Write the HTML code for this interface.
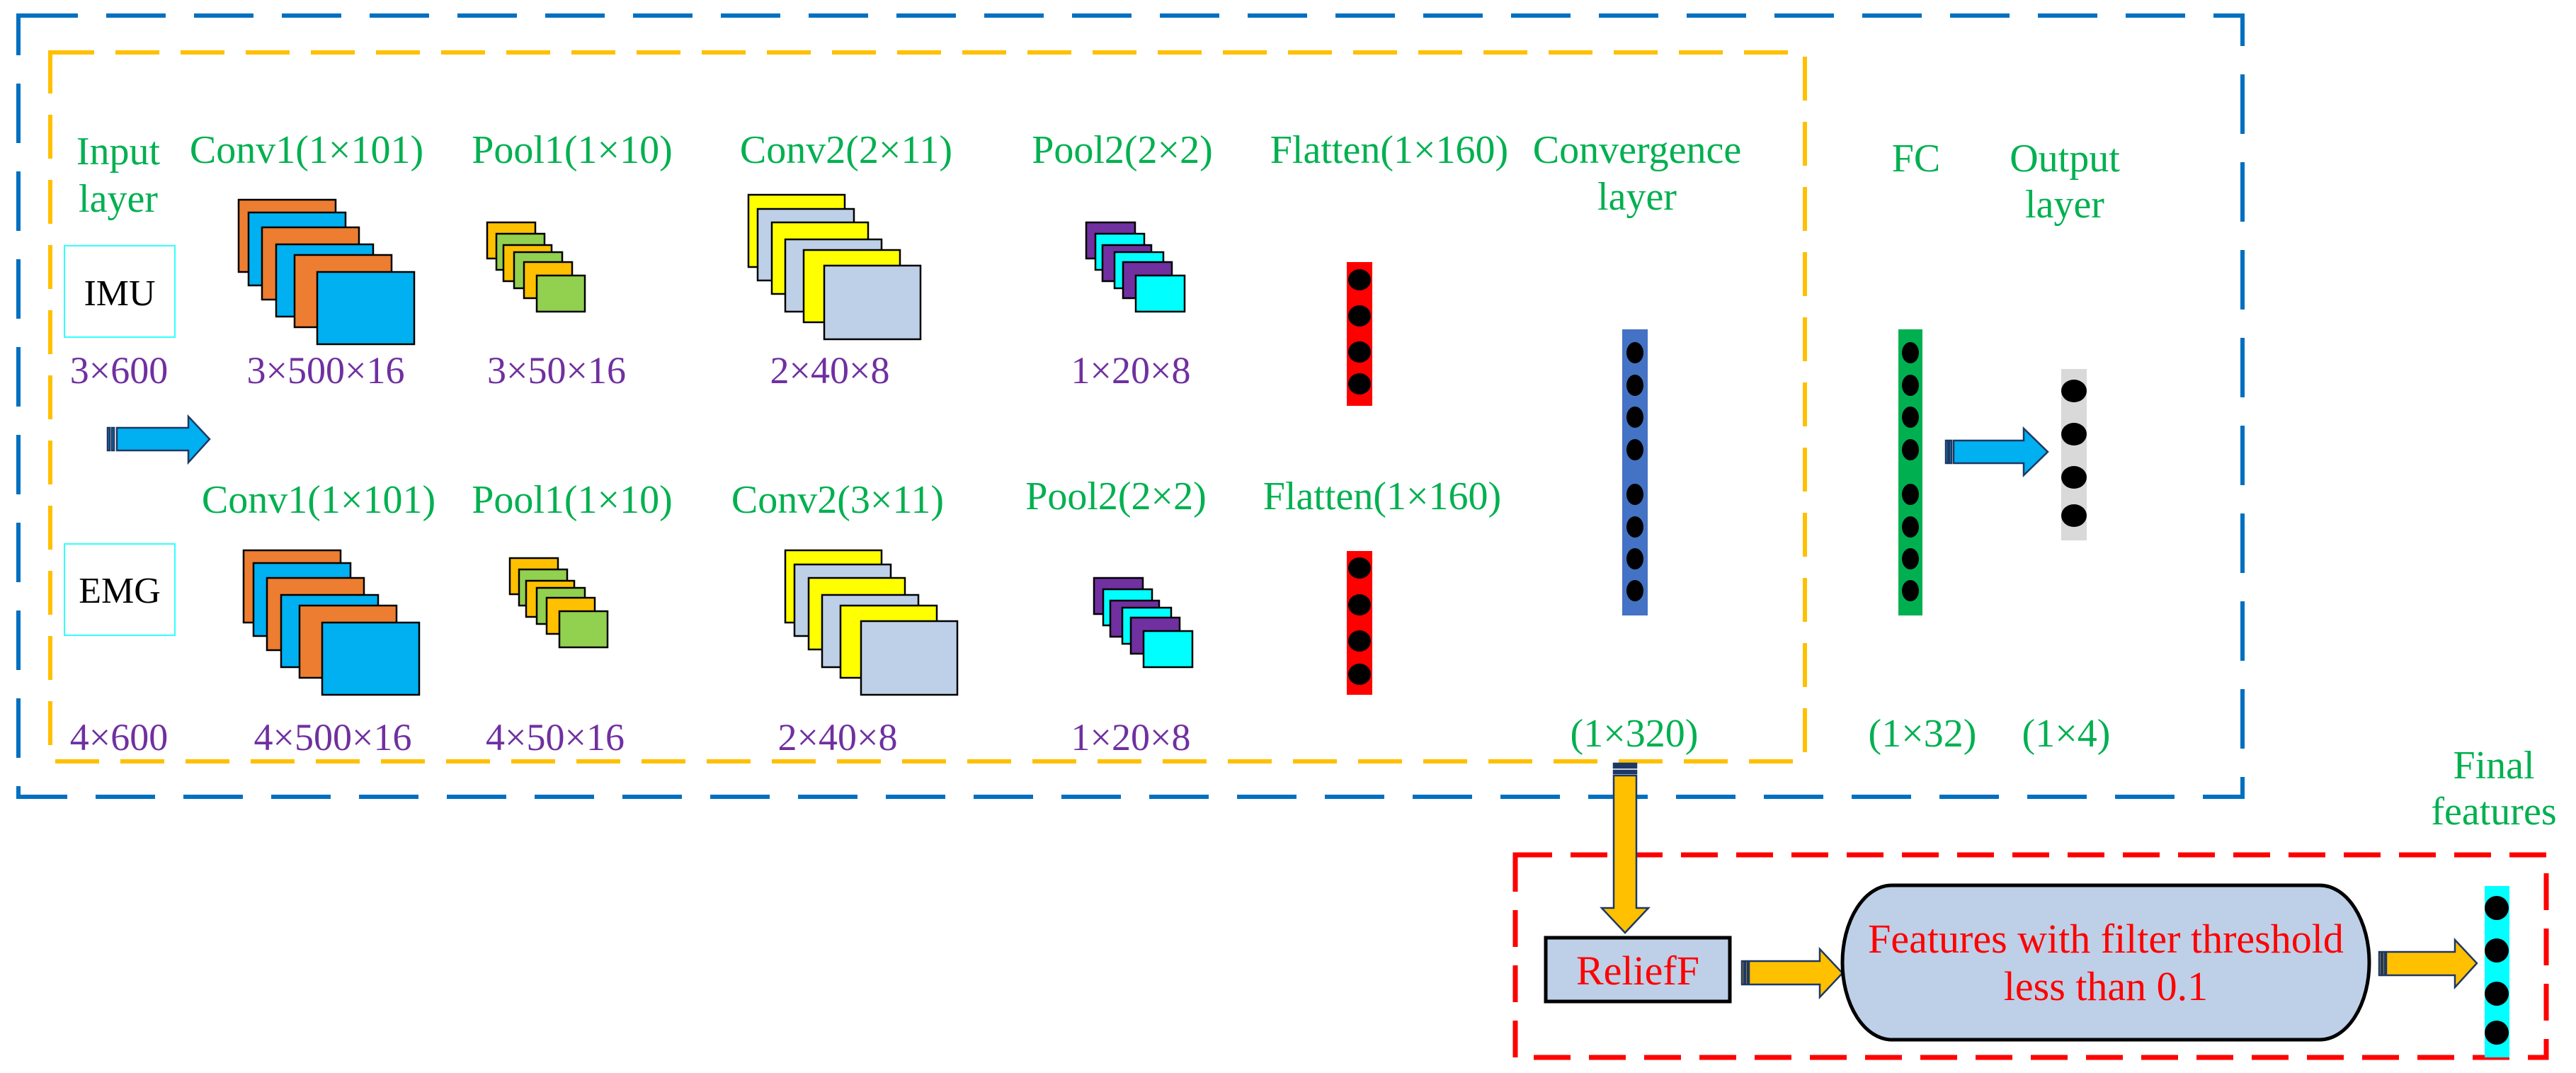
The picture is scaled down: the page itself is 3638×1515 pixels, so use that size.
<!DOCTYPE html>
<html><head><meta charset="utf-8"><style>
html,body{margin:0;padding:0;background:#fff}
svg{display:block}
text{font-family:"Liberation Serif",serif}
.g{fill:#00B050;font-size:56px}
.p{fill:#7030A0;font-size:54px}
.r{fill:#FF0000;font-size:58px}
</style></head><body>
<svg width="3638" height="1515" viewBox="0 0 3638 1515" xmlns="http://www.w3.org/2000/svg">
<defs>
<g id="conv1">
<rect x="337" y="282" width="137" height="102" fill="#ED7D31" stroke="#000" stroke-width="2.5"/>
<rect x="351" y="300" width="137" height="103" fill="#00B0F0" stroke="#000" stroke-width="2.5"/>
<rect x="370" y="321" width="137" height="102" fill="#ED7D31" stroke="#000" stroke-width="2.5"/>
<rect x="390" y="345" width="137" height="102" fill="#00B0F0" stroke="#000" stroke-width="2.5"/>
<rect x="416" y="360" width="137" height="102" fill="#ED7D31" stroke="#000" stroke-width="2.5"/>
<rect x="448" y="384" width="137" height="102" fill="#00B0F0" stroke="#000" stroke-width="2.5"/>
</g>
<g id="pool1">
<rect x="688" y="314" width="68" height="51" fill="#FFC000" stroke="#000" stroke-width="2.5"/>
<rect x="701" y="330" width="68" height="51" fill="#92D050" stroke="#000" stroke-width="2.5"/>
<rect x="711" y="346" width="68" height="51" fill="#FFC000" stroke="#000" stroke-width="2.5"/>
<rect x="726" y="356" width="68" height="51" fill="#92D050" stroke="#000" stroke-width="2.5"/>
<rect x="740" y="370" width="68" height="51" fill="#FFC000" stroke="#000" stroke-width="2.5"/>
<rect x="758" y="389" width="68" height="51" fill="#92D050" stroke="#000" stroke-width="2.5"/>
</g>
<g id="conv2">
<rect x="1057" y="275" width="136" height="102" fill="#FFFF00" stroke="#000" stroke-width="2.5"/>
<rect x="1070" y="295" width="136" height="101" fill="#BDD0E8" stroke="#000" stroke-width="2.5"/>
<rect x="1090" y="314" width="136" height="101" fill="#FFFF00" stroke="#000" stroke-width="2.5"/>
<rect x="1109" y="338" width="136" height="102" fill="#BDD0E8" stroke="#000" stroke-width="2.5"/>
<rect x="1135" y="353" width="136" height="102" fill="#FFFF00" stroke="#000" stroke-width="2.5"/>
<rect x="1164" y="375" width="136" height="104" fill="#BDD0E8" stroke="#000" stroke-width="2.5"/>
</g>
<g id="pool2">
<rect x="1534" y="314" width="69" height="51" fill="#7030A0" stroke="#000" stroke-width="2.5"/>
<rect x="1547" y="330" width="69" height="51" fill="#00FFFF" stroke="#000" stroke-width="2.5"/>
<rect x="1557" y="346" width="69" height="51" fill="#7030A0" stroke="#000" stroke-width="2.5"/>
<rect x="1574" y="356" width="69" height="51" fill="#00FFFF" stroke="#000" stroke-width="2.5"/>
<rect x="1586" y="370" width="69" height="51" fill="#7030A0" stroke="#000" stroke-width="2.5"/>
<rect x="1604" y="389" width="69" height="51" fill="#00FFFF" stroke="#000" stroke-width="2.5"/>
</g>
</defs>

<rect x="26" y="22" width="3141" height="1103" fill="none" stroke="#0070C0" stroke-width="6" stroke-dasharray="84 40"/>
<rect x="71" y="74" width="2478" height="1001" fill="none" stroke="#FFC000" stroke-width="6" stroke-dasharray="62 30"/>
<rect x="2140" y="1207" width="1456" height="286" fill="none" stroke="#FF0000" stroke-width="7" stroke-dasharray="52 26"/>

<rect x="91" y="347" width="156" height="129" fill="#fff" stroke="#33FFFF" stroke-width="2"/>
<text x="169" y="431" font-size="52" text-anchor="middle" fill="#000">IMU</text>
<rect x="91" y="768" width="156" height="129" fill="#fff" stroke="#33FFFF" stroke-width="2"/>
<text x="169" y="851" font-size="52" text-anchor="middle" fill="#000">EMG</text>

<use href="#conv1"/><use href="#conv1" transform="translate(7,495)"/>
<use href="#pool1"/><use href="#pool1" transform="translate(32,474)"/>
<use href="#conv2"/><use href="#conv2" transform="translate(52,502)"/>
<use href="#pool2"/><use href="#pool2" transform="translate(11,502)"/>

<g fill="#00B0F0" stroke="#1F3864" stroke-width="2.5">
<rect x="152" y="604" width="3" height="32"/><rect x="158" y="604" width="3" height="32"/>
<polygon points="165,604 266,604 266,588 296,620 266,653 266,636 165,636"/>
</g>

<rect x="1902" y="370" width="36" height="203" fill="#FF0000"/>
<g fill="#000"><ellipse cx="1920" cy="395" rx="16" ry="15"/><ellipse cx="1920" cy="446" rx="16" ry="15"/><ellipse cx="1920" cy="497" rx="16" ry="15"/><ellipse cx="1920" cy="542" rx="16" ry="15"/></g>
<rect x="1902" y="778" width="36" height="203" fill="#FF0000"/>
<g fill="#000"><ellipse cx="1920" cy="802" rx="16" ry="15"/><ellipse cx="1920" cy="854" rx="16" ry="15"/><ellipse cx="1920" cy="905" rx="16" ry="15"/><ellipse cx="1920" cy="952" rx="16" ry="15"/></g>

<rect x="2291" y="465" width="36" height="404" fill="#4472C4"/>
<g fill="#000">
<ellipse cx="2309" cy="498" rx="12" ry="15"/><ellipse cx="2309" cy="544" rx="12" ry="15"/><ellipse cx="2309" cy="589" rx="12" ry="15"/><ellipse cx="2309" cy="635" rx="12" ry="15"/>
<ellipse cx="2309" cy="698" rx="12" ry="15"/><ellipse cx="2309" cy="744" rx="12" ry="15"/><ellipse cx="2309" cy="789" rx="12" ry="15"/><ellipse cx="2309" cy="834" rx="12" ry="15"/>
</g>
<rect x="2681" y="465" width="34" height="404" fill="#00B050"/>
<g fill="#000">
<ellipse cx="2698" cy="498" rx="12" ry="15"/><ellipse cx="2698" cy="544" rx="12" ry="15"/><ellipse cx="2698" cy="589" rx="12" ry="15"/><ellipse cx="2698" cy="635" rx="12" ry="15"/>
<ellipse cx="2698" cy="698" rx="12" ry="15"/><ellipse cx="2698" cy="744" rx="12" ry="15"/><ellipse cx="2698" cy="789" rx="12" ry="15"/><ellipse cx="2698" cy="834" rx="12" ry="15"/>
</g>
<rect x="2911" y="521" width="36" height="242" fill="#D9D9D9"/>
<g fill="#000"><ellipse cx="2929" cy="552" rx="18" ry="16"/><ellipse cx="2929" cy="613" rx="18" ry="16"/><ellipse cx="2929" cy="674" rx="18" ry="16"/><ellipse cx="2929" cy="728" rx="18" ry="16"/></g>
<g fill="#00B0F0" stroke="#1F3864" stroke-width="2.5">
<rect x="2748" y="622" width="3" height="32"/><rect x="2753" y="622" width="3" height="32"/>
<polygon points="2759,622 2858,622 2858,605 2892,638 2858,671 2858,654 2759,654"/>
</g>

<g fill="#FFC000" stroke="#1F3864" stroke-width="2.5">
<rect x="2279" y="1078" width="32" height="6" fill="#1F3864"/>
<rect x="2279" y="1088" width="32" height="4" fill="#1F3864"/>
<polygon points="2279,1095 2311,1095 2311,1282 2328,1282 2295,1317 2262,1282 2279,1282"/>
</g>

<rect x="2183" y="1324" width="260" height="90" fill="#BDD0E8" stroke="#000" stroke-width="5"/>
<text x="2313" y="1390" class="r" text-anchor="middle">ReliefF</text>
<g fill="#FFC000" stroke="#1F3864" stroke-width="2.5">
<rect x="2460" y="1357" width="3" height="33"/><rect x="2465" y="1357" width="3" height="33"/>
<polygon points="2470,1357 2570,1357 2570,1340 2602,1374 2570,1408 2570,1390 2470,1390"/>
</g>
<rect x="2602" y="1250" width="744" height="218" rx="70" ry="109" fill="#BDD0E8" stroke="#000" stroke-width="5"/>
<text x="2974" y="1345" class="r" text-anchor="middle">Features with filter threshold</text>
<text x="2974" y="1412" class="r" text-anchor="middle">less than 0.1</text>
<g fill="#FFC000" stroke="#1F3864" stroke-width="2.5">
<rect x="3360" y="1344" width="3" height="33"/><rect x="3365" y="1344" width="3" height="33"/>
<polygon points="3370,1344 3467,1344 3467,1327 3498,1360 3467,1394 3467,1377 3370,1377"/>
</g>
<rect x="3509" y="1251" width="35" height="242" fill="#00FFFF"/>
<g fill="#000"><ellipse cx="3526" cy="1282" rx="17" ry="17"/><ellipse cx="3526" cy="1342" rx="17" ry="17"/><ellipse cx="3526" cy="1403" rx="17" ry="17"/><ellipse cx="3526" cy="1458" rx="17" ry="17"/></g>
<text x="3522" y="1099" class="g" text-anchor="middle">Final</text>
<text x="3522" y="1164" class="g" text-anchor="middle">features</text>

<g class="g" text-anchor="middle">
<text x="167" y="232">Input</text><text x="167" y="299">layer</text>
<text x="433" y="230">Conv1(1×101)</text>
<text x="808" y="230">Pool1(1×10)</text>
<text x="1195" y="230">Conv2(2×11)</text>
<text x="1585" y="230">Pool2(2×2)</text>
<text x="1962" y="230">Flatten(1×160)</text>
<text x="2312" y="230">Convergence</text><text x="2312" y="296">layer</text>
<text x="2706" y="242">FC</text>
<text x="2916" y="242">Output</text><text x="2916" y="307">layer</text>
<text x="450" y="724">Conv1(1×101)</text>
<text x="808" y="724">Pool1(1×10)</text>
<text x="1183" y="724">Conv2(3×11)</text>
<text x="1576" y="719">Pool2(2×2)</text>
<text x="1952" y="719">Flatten(1×160)</text>
<text x="2308" y="1054">(1×320)</text>
<text x="2715" y="1054">(1×32)</text>
<text x="2918" y="1054">(1×4)</text>
</g>
<g class="p" text-anchor="middle">
<text x="168" y="541">3×600</text>
<text x="460" y="541">3×500×16</text>
<text x="786" y="541">3×50×16</text>
<text x="1172" y="541">2×40×8</text>
<text x="1597" y="541">1×20×8</text>
<text x="168" y="1059">4×600</text>
<text x="470" y="1059">4×500×16</text>
<text x="784" y="1059">4×50×16</text>
<text x="1183" y="1059">2×40×8</text>
<text x="1597" y="1059">1×20×8</text>
</g>
</svg>
</body></html>
